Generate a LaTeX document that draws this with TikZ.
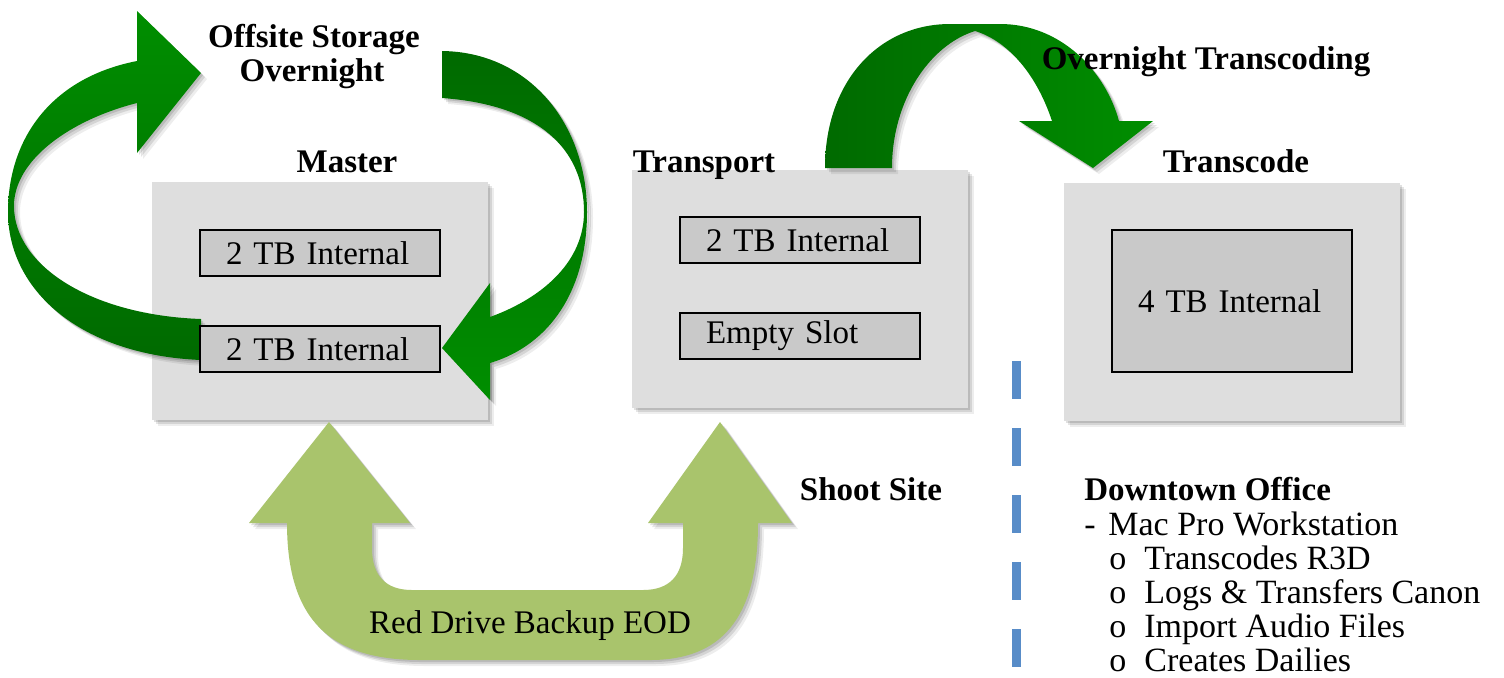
\documentclass[tikz,border=0pt]{standalone}
\usepackage{fontspec}
\setmainfont{Liberation Serif}

\definecolor{boxgray}{RGB}{222,222,222}
\definecolor{slotgray}{RGB}{201,201,201}
\definecolor{darkgrn}{RGB}{0,106,0}
\definecolor{brightgrn}{RGB}{0,142,0}
\definecolor{lightgrn}{RGB}{169,196,108}
\definecolor{dashblue}{RGB}{88,140,200}

\tikzset{
  softshadow/.style={
    preaction={fill=black,opacity=.07,transform canvas={xshift=3pt,yshift=-3pt}},
    preaction={fill=black,opacity=.10,transform canvas={xshift=2pt,yshift=-2pt}},
    preaction={fill=black,opacity=.12,transform canvas={xshift=1pt,yshift=-1pt}}},
  unitbox/.style={fill=boxgray,minimum width=168pt,minimum height=119pt,
    inner sep=0pt,softshadow},
  slot/.style={draw=black,line width=0.9pt,fill=slotgray,minimum height=23pt,
    text width=94pt,inner xsep=13pt,inner ysep=0pt,align=left,
    font=\fontsize{16.5}{19}\selectfont},
  title/.style={anchor=base,inner sep=0pt,font=\fontsize{16.5}{20}\selectfont\bfseries},
  plain/.style={anchor=base west,inner sep=0pt,font=\fontsize{17}{20}\selectfont},
  greenarrow/.style={softshadow},
}

\begin{document}
\begin{tikzpicture}[x=0.5pt,y=-0.5pt]
\clip (0,0) rectangle (1504,677);
\fill[white] (0,0) rectangle (1504,677);

% the three machines
\node[unitbox] (master)    at (320,301) {};
\node[unitbox] (transport) at (800,289) {};
\node[unitbox] (transcode) at (1232,302) {};

% overnight rotation loop around the master unit
\coordinate (lt-tailtop) at (201,319);
\coordinate (lt-tailbot) at (201,360);
\coordinate (lt-tip)     at (201,73);
\path[greenarrow,top color=brightgrn,bottom color=darkgrn]
  (lt-tailtop) .. controls (90,315) and (14,265) .. (14,206)
  .. controls (14,160) and (70,120) .. (137,103)
  -- (137,153) -- (lt-tip) -- (137,11) -- (137,61)
  .. controls (50,78) and (8,140) .. (8,212)
  .. controls (8,290) and (80,355) .. (lt-tailbot) -- cycle;

\coordinate (rt-tailtop) at (442,51);
\coordinate (rt-tailbot) at (442,98);
\coordinate (rt-tip)     at (442,348);
\path[greenarrow,top color=darkgrn,bottom color=brightgrn]
  (rt-tailtop) .. controls (530,52) and (587,125) .. (587,212)
  .. controls (587,290) and (550,345) .. (490,363)
  -- (490,400) -- (rt-tip) -- (490,283) -- (490,317)
  .. controls (545,297) and (584,260) .. (584,212)
  .. controls (584,150) and (540,105) .. (rt-tailbot) -- cycle;

% overnight transcoding hop
\coordinate (ot-tailL) at (825,168);
\coordinate (ot-tailR) at (892,168);
\coordinate (ot-tip)   at (1093,168);
\path[greenarrow,left color=darkgrn,right color=brightgrn]
  (ot-tailL) .. controls (825,80) and (880,24) .. (950,24)
  -- (1000,24) .. controls (1060,24) and (1105,70) .. (1119,121)
  -- (1153,121) -- (ot-tip) -- (1019,121) -- (1052,121)
  .. controls (1035,70) and (1005,40) .. (975,31)
  .. controls (930,45) and (892,100) .. (ot-tailR) -- cycle;

% end-of-day backup U-turn
\coordinate (bk-tipL) at (329,422);
\coordinate (bk-tipR) at (720,422);
\path[greenarrow,fill=lightgrn]
  (bk-tipL) -- (410,523) -- (372,523) -- (372,548)
  .. controls (372,576) and (386,590) .. (412,590) -- (643,590)
  .. controls (669,590) and (683,576) .. (683,548) -- (683,523)
  -- (648,523) -- (bk-tipR) -- (792,523) -- (758,523)
  .. controls (758,620) and (720,660) .. (650,660) -- (420,660)
  .. controls (330,660) and (287,620) .. (287,523) -- (249,523) -- cycle;

% drive slots
\node[slot] (m1) at (320,253) {2 TB Internal};
\node[slot] (m2) at (320,349) {2 TB Internal};
\node[slot] (t1) at (800,240) {2 TB Internal};
\node[slot] (t2) at (800,336) {Empty Slot};
\node[slot,minimum height=71pt] (c1) at (1232,301) {4 TB Internal};

% site divider
\coordinate (div-top) at (1016,361);
\coordinate (div-bot) at (1016,700);
\draw[dashblue,line width=4.5pt,dash pattern=on 19pt off 14.5pt]
  (div-top) -- (div-bot);

% labels
\node[title] (lab-master)    at (347,172) {Master};
\node[title] (lab-transport) at (704,172) {Transport};
\node[title] (lab-transcode) at (1236,172) {Transcode};
\node[title] (lab-offsite1)  at (314,47) {Offsite Storage};
\node[title] (lab-offsite2)  at (312,81) {Overnight};
\node[title] (lab-ot)        at (1206,69) {Overnight Transcoding};
\node[title] (lab-shoot)     at (871,500) {Shoot Site};
\node[anchor=base,inner sep=0pt,font=\fontsize{16.5}{19}\selectfont]
  (lab-backup) at (530,633) {Red Drive Backup EOD};

% downtown office notes
\node[plain,font=\fontsize{16.5}{19}\selectfont\bfseries] (dt) at (1084,500) {Downtown Office};
\node[plain] (dt-dash) at (1084,535) {-};
\node[plain] (dt-mac)  at (1108,535) {Mac Pro Workstation};
\foreach \y/\txt [count=\i] in {569/Transcodes R3D,603/Logs \& Transfers Canon,
                                637/Import Audio Files,671/Creates Dailies}{
  \node[plain] (dt-b\i) at (1109,\y) {o};
  \node[plain] (dt-i\i) at (1144,\y) {\txt};
}
\end{tikzpicture}
\end{document}
